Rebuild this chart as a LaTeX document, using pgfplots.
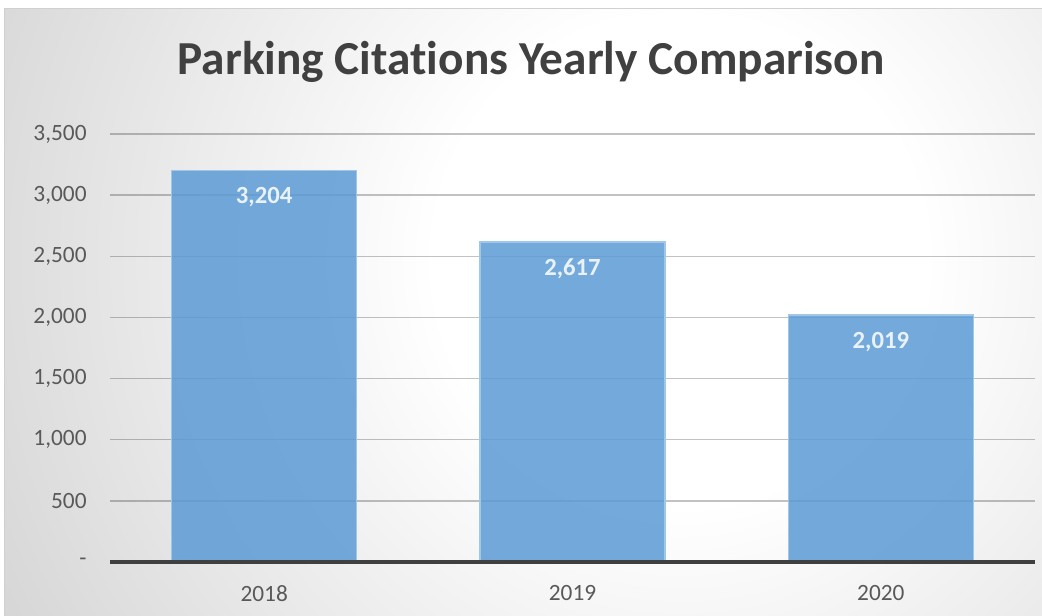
\documentclass[border=0pt]{standalone}
\usepackage{fontspec}
\setmainfont[Ligatures=NoCommon]{Carlito}
\usepackage{pgfplots}
\pgfplotsset{compat=1.18}
\definecolor{barblue}{RGB}{91,155,213}
\definecolor{baredge}{RGB}{160,198,232}
\definecolor{titlegray}{RGB}{64,64,64}
\definecolor{labgray}{RGB}{89,89,89}
\definecolor{axisdark}{RGB}{64,64,64}
\definecolor{bgmid}{RGB}{214,214,214}
\definecolor{bgout}{RGB}{186,186,186}
\definecolor{frameline}{RGB}{208,208,208}
\pgfdeclareradialshading{bgshade}{\pgfpointorigin}{color(0bp)=(white); color(8bp)=(white); color(25bp)=(bgmid); color(50bp)=(bgout)}
\begin{document}
\begin{tikzpicture}
\useasboundingbox (0,0) rectangle (781.5pt,462pt);
% background
\begin{scope}
\clip (3pt,0pt) rectangle (781.5pt,455.25pt);
\shade[shading=bgshade] (510pt,267pt) circle (575pt);
\end{scope}
\draw[frameline, line width=0.75pt] (3pt,-1pt) -- (3pt,455.25pt) -- (782pt,455.25pt);
\node[anchor=base, font=\bfseries\fontsize{35.5}{42}\selectfont, text=titlegray] at (398.25pt,405.75pt) {Parking Citations Yearly Comparison};
\begin{axis}[
  at={(82.5pt,40.5pt)}, anchor=south west,
  scale only axis, width=693.75pt, height=321pt,
  xmin=-0.5, xmax=2.5, ymin=0, ymax=3500,
  ybar, bar width=0.6,
  xtick={0,1,2}, xticklabels={2018,2019,2020},
  ytick={0,500,1000,1500,2000,2500,3000,3500},
  yticklabels={-,500,{1,000},{1,500},{2,000},{2,500},{3,000},{3,500}},
  axis line style={draw=none}, tick style={draw=none},
  ymajorgrids, grid style={black, opacity=0.24, line width=1.1pt},
  /pgf/number format/1000 sep={,},
  /pgf/number format/assume math mode=true,
  yticklabel style={font=\fontsize{17.5}{20}\selectfont, text=labgray, anchor=east, xshift=-14pt},
  xticklabel style={font=\fontsize{17.5}{20}\selectfont, text=labgray, yshift=-10pt},
  nodes near coords,
  every node near coord/.append style={font=\bfseries\fontsize{18.5}{22}\selectfont, text=white, anchor=center, yshift=-20.25pt},
  clip=false,
]
\addplot[fill=barblue, fill opacity=0.85, draw=baredge, line width=0.9pt] coordinates {(0,3204) (1,2617) (2,2019)};
\draw[axisdark, line width=3pt] (axis cs:-0.5,0) -- (axis cs:2.5,0);
\end{axis}
\end{tikzpicture}
\end{document}
